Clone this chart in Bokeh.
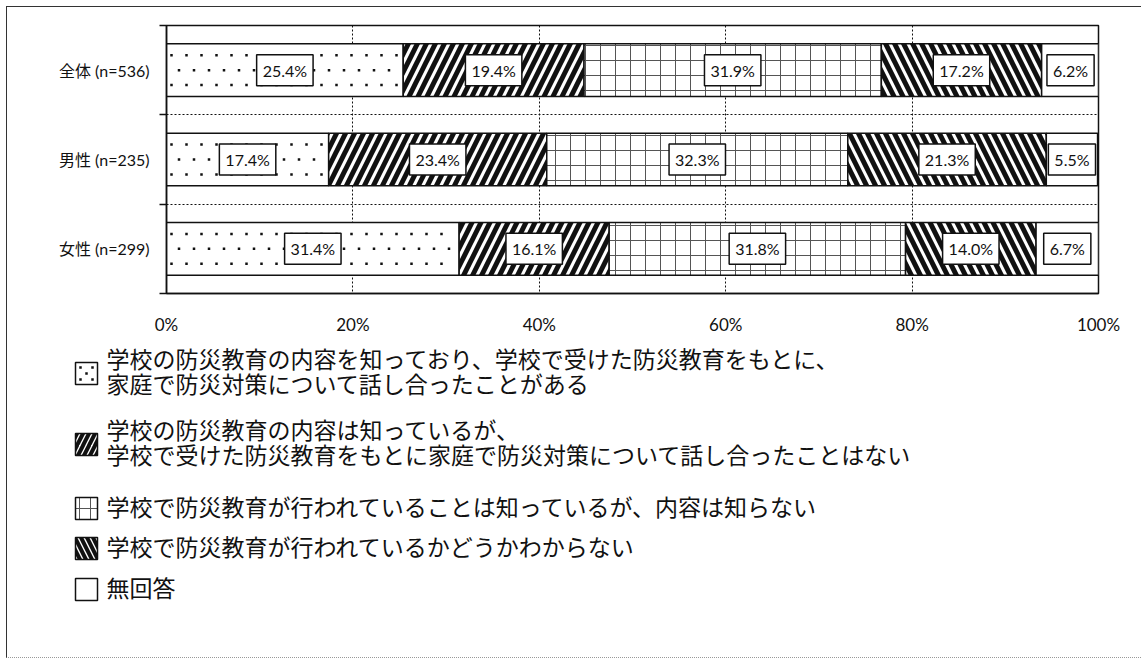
import numpy as np
from bokeh.plotting import figure
from bokeh.layouts import column
from bokeh.models import ColumnDataSource, FixedTicker, Range1d
from bokeh.core.properties import value
from bokeh.embed import file_html
from bokeh.resources import INLINE

# ---------------- data ----------------
categories = ["全体 (n=536)", "男性 (n=235)", "女性 (n=299)"]
series_labels = [
    "学校の防災教育の内容を知っており、学校で受けた防災教育をもとに、\n家庭で防災対策について話し合ったことがある",
    "学校の防災教育の内容は知っているが、\n学校で受けた防災教育をもとに家庭で防災対策について話し合ったことはない",
    "学校で防災教育が行われていることは知っているが、内容は知らない",
    "学校で防災教育が行われているかどうかわからない",
    "無回答",
]
talked = [25.4, 17.4, 31.4]
know_not_talked = [19.4, 23.4, 16.1]
know_exists = [31.9, 32.3, 31.8]
dont_know = [17.2, 21.3, 14.0]
no_answer = [6.2, 5.5, 6.7]
x_ticks = [0, 20, 40, 60, 80, 100]
x_tick_labels = ["0%", "20%", "40%", "60%", "80%", "100%"]

series = [talked, know_not_talked, know_exists, dont_know, no_answer]

# ---------------- styles ----------------
INK = "#111111"
patterns = ["dots", "right_diagonal_line", "cross", "left_diagonal_line", "blank"]
hatches = ["blank" if h == "dots" else h for h in patterns]
hatch_scales = [12, 18, 15, 18, 12]
hatch_weights = [1, 5, 1, 5, 1]
hatch_colors = [INK, INK, "#555555", INK, INK]
leg_scales = [12, 12, 11, 12, 12]
leg_weights = [1, 4, 1, 4, 1]

# ---------------- layout ----------------
OX, OY = 7, 7                 # page position of the figures' origin
W = 1134
H1, H2 = 330, 320
FL, FT, FW, FH = 166 - OX, 25 - OY, 932, 270

p = figure(width=W, height=H1,
           x_range=Range1d(0, 100), y_range=Range1d(len(categories), 0),
           output_backend="svg", toolbar_location=None,
           min_border_left=FL, min_border_top=FT,
           min_border_right=W - FL - FW, min_border_bottom=H1 - FT - FH)
p.frame_align = False
p.background_fill_color = "white"
p.border_fill_color = "white"
p.outline_line_color = INK
p.outline_line_width = 1.5

ys = np.arange(len(categories)) + 0.5
arr = np.array(series)
rights = np.cumsum(arr, axis=0)
lefts = rights - arr
n_s, n_c = arr.shape
bars = ColumnDataSource(dict(
    y=np.tile(ys, n_s),
    left=lefts.flatten(),
    right=rights.flatten(),
    pattern=np.repeat(hatches, n_c),
    hscale=np.repeat(hatch_scales, n_c),
    hweight=np.repeat(hatch_weights, n_c),
    hcolor=np.repeat(hatch_colors, n_c),
    xc=(lefts + arr / 2).flatten(),
    text=[f"{v:.1f}%" for v in arr.flatten()],
))
BAR_H = 0.59
p.hbar(y="y", left="left", right="right", height=BAR_H, source=bars,
       fill_color="white", line_color=INK, line_width=1.5,
       hatch_pattern="pattern", hatch_scale="hscale", hatch_weight="hweight",
       hatch_color="hcolor")

# fine staggered dot texture for the "dots" series, computed from the bar extents
px_x = 100 / FW
px_y = len(categories) / FH
dot_x, dot_y = [], []
for si, pat in enumerate(patterns):
    if pat != "dots":
        continue
    for li, ri, yi in zip(lefts[si], rights[si], ys):
        for r, off in enumerate((-15, 0, 15)):
            xx = li + (5 if r % 2 == 0 else 12.5) * px_x
            while xx < ri - 3 * px_x:
                dot_x.append(xx)
                dot_y.append(yi + off * px_y)
                xx += 15 * px_x
p.scatter(dot_x, dot_y, marker="square", size=2.5, color=INK, line_width=0)

p.text(x="xc", y="y", text="text", source=bars,
       text_align="center", text_baseline="middle",
       text_font=value("Lato"), text_font_size="16px", text_color=INK,
       background_fill_color="white", border_line_color=INK,
       border_line_width=1.5, padding=6)

# x axis
xt = FixedTicker(ticks=x_ticks)
xa = p.xaxis[0]
xa.ticker = xt
xa.major_label_overrides = dict(zip(x_ticks, x_tick_labels))
xa.axis_line_color = INK
xa.axis_line_width = 1.5
xa.major_tick_line_color = None
xa.minor_tick_line_color = None
xa.major_tick_out = 0
xa.major_tick_in = 0
xa.major_label_standoff = 20
xa.major_label_text_font = "Lato"
xa.major_label_text_font_size = "17px"
xa.major_label_text_color = INK
p.xgrid.ticker = xt
p.xgrid.grid_line_color = INK
p.xgrid.grid_line_dash = "2 2"
p.xgrid.grid_line_width = 1

# y axis
yt = FixedTicker(ticks=list(ys), minor_ticks=list(range(len(categories) + 1)))
ya = p.yaxis[0]
ya.ticker = yt
ya.major_label_overrides = {float(y): c for y, c in zip(ys, categories)}
ya.axis_line_color = INK
ya.axis_line_width = 1.5
ya.major_tick_line_color = None
ya.major_tick_out = 0
ya.major_tick_in = 0
ya.minor_tick_line_color = INK
ya.minor_tick_line_width = 1.5
ya.minor_tick_out = 7
ya.minor_tick_in = 0
ya.major_label_standoff = 10
ya.major_label_text_font = "Lato, 'Noto Sans CJK JP'"
ya.major_label_text_font_size = "16px"
ya.major_label_text_color = INK
p.ygrid.ticker = yt
p.ygrid.grid_line_color = None
p.ygrid.minor_grid_line_color = INK
p.ygrid.minor_grid_line_dash = "2 2"
p.ygrid.minor_grid_line_width = 1

# ---------------- legend (second figure, pixel ranges) ----------------
p2 = figure(width=W, height=H2,
            x_range=Range1d(0, W), y_range=Range1d(H2, 0),
            output_backend="svg", toolbar_location=None,
            x_axis_location=None, y_axis_location=None,
            min_border=0, min_border_left=0, min_border_right=0,
            min_border_top=0, min_border_bottom=0)
p2.frame_align = False
p2.grid.visible = False
p2.outline_line_color = None
p2.background_fill_color = "white"
p2.border_fill_color = "white"

P2Y = OY + H1                  # page y of legend figure top
box_x0, box_x1, text_x = 75, 97, 106
item_centers = [373, 444, 508, 548, 589]
half = 11
leg = ColumnDataSource(dict(
    left=[box_x0 - OX] * n_s,
    right=[box_x1 - OX] * n_s,
    top=[c - half - P2Y for c in item_centers],
    bottom=[c + half - P2Y for c in item_centers],
    yc=[c - P2Y for c in item_centers],
    tx=[text_x - OX] * n_s,
    pattern=hatches,
    hscale=leg_scales,
    hweight=leg_weights,
    hcolor=hatch_colors,
    label=series_labels,
))
p2.quad(left="left", right="right", top="top", bottom="bottom", source=leg,
        fill_color="white", line_color=INK, line_width=1.5,
        hatch_pattern="pattern", hatch_scale="hscale", hatch_weight="hweight",
        hatch_color="hcolor")
sw_x, sw_y = [], []
for si, pat in enumerate(patterns):
    if pat != "dots":
        continue
    cx = (box_x0 + box_x1) / 2 - OX
    cy = item_centers[si] - P2Y
    for dx, dy in ((-6, -6), (6, -6), (0, 0), (-6, 6), (6, 6)):
        sw_x.append(cx + dx)
        sw_y.append(cy + dy)
p2.scatter(sw_x, sw_y, marker="square", size=2.5, color=INK, line_width=0)

p2.text(x="tx", y="yc", text="label", source=leg,
        text_align="left", text_baseline="middle", y_offset=-3,
        text_font=value("Noto Sans CJK JP"), text_font_size="23px",
        text_line_height=0.72, text_color=INK)

layout = column(p, p2, spacing=0,
                styles={"margin-left": "6px", "margin-top": "6px",
                        "border-left": "1px solid #333333",
                        "border-top": "1px solid #333333",
                        "border-bottom": "1px dotted #999999"})

open("out.html", "w").write(file_html(layout, INLINE))
